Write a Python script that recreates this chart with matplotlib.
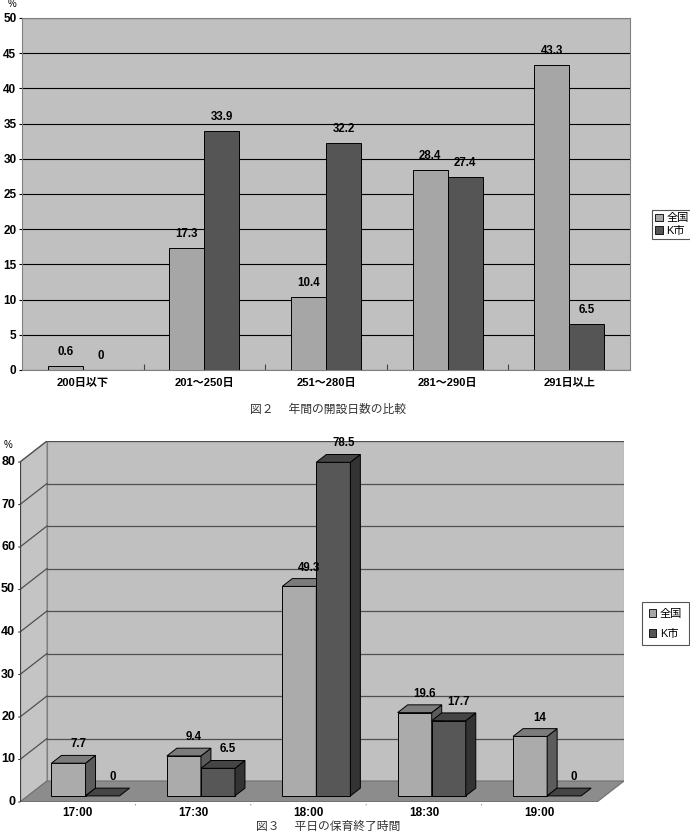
import matplotlib
matplotlib.use("Agg")
import matplotlib.pyplot as plt
from matplotlib.patches import Polygon, Patch
import numpy as np

plt.rcParams['font.family'] = ['Liberation Sans', 'Noto Sans CJK JP', 'DejaVu Sans']

# ---------------- data ----------------
series_names = ['全国', 'K市']

days_categories = ['200日以下', '201～250日', '251～280日', '281～290日', '291日以上']
days_national = [0.6, 17.3, 10.4, 28.4, 43.3]
days_kcity = [0, 33.9, 32.2, 27.4, 6.5]
days_yticks = [0, 5, 10, 15, 20, 25, 30, 35, 40, 45, 50]
caption1 = '図２　 年間の開設日数の比較'

time_categories = ['17:00', '17:30', '18:00', '18:30', '19:00']
time_national = [7.7, 9.4, 49.3, 19.6, 14]
time_kcity = [0, 6.5, 78.5, 17.7, 0]
time_yticks = [0, 10, 20, 30, 40, 50, 60, 70, 80]
caption2 = '図３　 平日の保育終了時間'

# ---------------- style ----------------
W, H = 690, 834
LIGHT = '#a6a6a6'
DARK = '#555555'
WALL = '#c0c0c0'

fig = plt.figure(figsize=(W / 100, H / 100), dpi=100)


def fx(px):
    return px / W


def fy(py):
    return 1 - py / H


# ================= top chart (2D) =================
ax1 = fig.add_axes([fx(22), fy(370), fx(630) - fx(22), fy(18) - fy(370)])
ax1.set_facecolor(WALL)
n = len(days_categories)
x = np.arange(n)
bw = 0.288
b1 = ax1.bar(x + 0.5 - bw, days_national, bw, align='edge', color=LIGHT,
             edgecolor='black', linewidth=0.7, zorder=3)
b2 = ax1.bar(x + 0.5, days_kcity, bw, align='edge', color=DARK,
             edgecolor='black', linewidth=0.7, zorder=3)
ax1.set_xlim(0, n)
ax1.set_ylim(0, 50)
ax1.set_yticks(days_yticks)
ax1.set_yticklabels([str(v) for v in days_yticks], fontsize=8.5, fontweight='bold')
ax1.yaxis.grid(True, color='black', linewidth=0.8, zorder=1)
ax1.set_axisbelow(True)
ax1.set_xticks(np.arange(1, n))
ax1.set_xticklabels([])
ax1.tick_params(axis='x', direction='in', length=4, color='#444444')
ax1.tick_params(axis='y', direction='out', length=2, pad=2)
for i, c in enumerate(days_categories):
    ax1.text(i + 0.5, -1.9, c, ha='center', va='center', fontsize=8,
             fontweight='bold')
for s in ax1.spines.values():
    s.set_color('#808080')
    s.set_linewidth(0.8)
for bars, vals in ((b1, days_national), (b2, days_kcity)):
    for r, v in zip(bars, vals):
        ax1.annotate(f'{v:g}', (r.get_x() + r.get_width() / 2, v),
                     xytext=(0, 10), textcoords='offset points',
                     ha='center', va='center', fontsize=8.3, fontweight='bold')
fig.text(fx(12), fy(4), '%', fontsize=7, ha='center', va='center')

handles = [Patch(facecolor=LIGHT, edgecolor='black', linewidth=0.6),
           Patch(facecolor=DARK, edgecolor='black', linewidth=0.6)]
leg1 = fig.legend(handles, series_names, loc='upper left',
                  bbox_to_anchor=(fx(652), fy(210)), bbox_transform=fig.transFigure,
                  borderaxespad=0, fancybox=False, edgecolor='#555555',
                  fontsize=8, handlelength=0.7, handleheight=0.7,
                  handletextpad=0.3, borderpad=0.3, labelspacing=0.25,
                  framealpha=1)
leg1.get_frame().set_linewidth(0.8)

fig.text(0.475, fy(410), caption1, ha='center', va='center', fontsize=8.5,
         color='#333333')

# ================= bottom chart (pseudo 3D) =================
DX = 27 / 115.4   # depth offset in category units
DY = 21 / 4.25    # depth offset in value units
ymax = 80
ax2 = fig.add_axes([fx(20), fy(802), fx(624) - fx(20), fy(441) - fy(802)])
ax2.set_xlim(0, n + DX)
ax2.set_ylim(0, ymax + DY)
ax2.axis('off')


def P(xx, yy, zz):
    return (xx + zz * DX, yy + zz * DY)


def poly(pts, fc, ec='black', lw=0.7, z=1):
    ax2.add_patch(Polygon(pts, closed=True, facecolor=fc, edgecolor=ec,
                          linewidth=lw, zorder=z))


# back wall
poly([P(0, 0, 1), P(n, 0, 1), P(n, ymax, 1), P(0, ymax, 1)], WALL, ec='#808080', lw=0.8)
# left wall
poly([P(0, 0, 0), P(0, 0, 1), P(0, ymax, 1), P(0, ymax, 0)], '#c4c4c4', ec='#808080', lw=0.8)
# floor
poly([P(0, 0, 0), P(n, 0, 0), P(n, 0, 1), P(0, 0, 1)], '#8c8c8c', ec='#707070', lw=0.8, z=2)

for v in time_yticks[1:]:
    xs, ys = zip(P(0, v, 1), P(n, v, 1))
    ax2.plot(xs, ys, color='#505050', lw=0.9, zorder=1.5)
    xs, ys = zip(P(0, v, 0), P(0, v, 1))
    ax2.plot(xs, ys, color='#505050', lw=0.9, zorder=1.5)
# front-left value axis line and ticks
ax2.plot([0, 0], [0, ymax], color='#404040', lw=0.9, zorder=2)
for v in time_yticks:
    ax2.annotate('', xy=(0, v), xytext=(-3, 0), textcoords='offset points',
                 arrowprops=dict(arrowstyle='-', color='#404040', lw=0.8))
    ax2.annotate(str(v), (0, v), xytext=(-3.5, 0), textcoords='offset points',
                 ha='right', va='center', fontsize=9, fontweight='bold')
# floor front edge
ax2.plot([0, n], [0, 0], color='#404040', lw=0.9, zorder=2.5)
for k in range(1, n):
    ax2.annotate('', xy=(k, 0), xytext=(0, -4), textcoords='offset points',
                 arrowprops=dict(arrowstyle='-', color='#404040', lw=0.8))
for i, c in enumerate(time_categories):
    ax2.annotate(c, (i + 0.5, 0), xytext=(0, -8), textcoords='offset points',
                 ha='center', va='center', fontsize=8.5, fontweight='bold')

zf, zb = 0.29, 0.66
w3 = 0.295
faces = {LIGHT: ('#ababab', '#7c7c7c', '#5c5c5c'),
         DARK: ('#575757', '#454545', '#333333')}
for i in range(n):
    for j, (vals, col) in enumerate(((time_national, LIGHT), (time_kcity, DARK))):
        v = vals[i]
        x0 = i + 0.5 - w3 + j * w3
        x1 = x0 + w3
        front, top, side = faces[col]
        zo = 3 + i * 2 + j
        if v > 0:
            poly([P(x0, 0, zf), P(x1, 0, zf), P(x1, v, zf), P(x0, v, zf)], front, z=zo)
            poly([P(x1, 0, zf), P(x1, 0, zb), P(x1, v, zb), P(x1, v, zf)], side, z=zo)
        poly([P(x0, v, zf), P(x1, v, zf), P(x1, v, zb), P(x0, v, zb)], top, z=zo)
        lx, ly = P((x0 + x1) / 2, v, zb)
        ax2.annotate(f'{v:g}', (lx, ly), xytext=(0, 8), textcoords='offset points',
                     ha='center', va='center', fontsize=8.3, fontweight='bold', zorder=20)

fig.text(fx(8), fy(445), '%', fontsize=7, ha='center', va='center')
leg2 = fig.legend(handles, series_names, loc='upper left',
                  bbox_to_anchor=(fx(642), fy(602)), bbox_transform=fig.transFigure,
                  borderaxespad=0, fancybox=False, edgecolor='#555555',
                  fontsize=8, handlelength=0.7, handleheight=0.7,
                  handletextpad=0.3, borderpad=0.6, labelspacing=0.9,
                  framealpha=1)
leg2.get_frame().set_linewidth(0.8)

fig.text(0.475, fy(833), caption2, ha='center', va='bottom', fontsize=8.5,
         color='#333333')

fig.savefig('out.png', dpi=100)
